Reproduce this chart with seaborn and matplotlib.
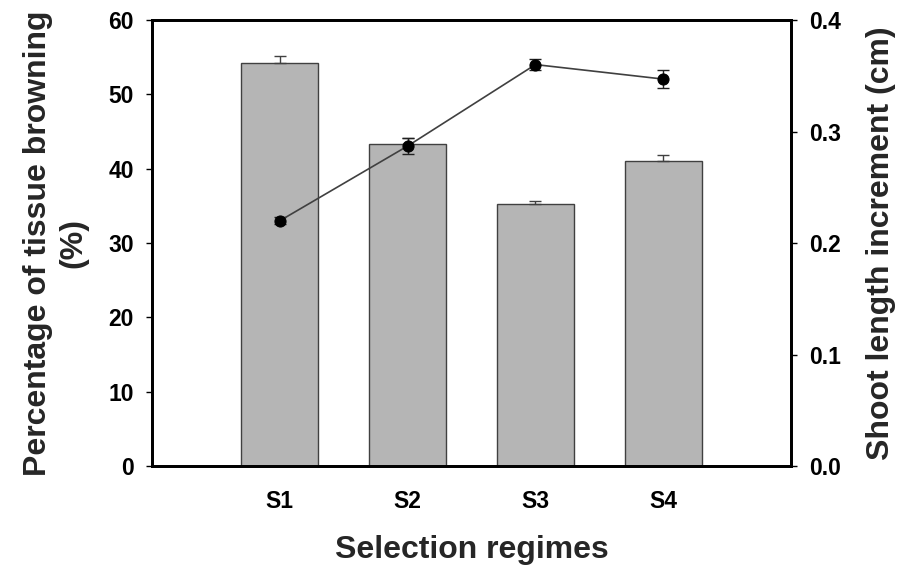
import matplotlib
matplotlib.use("Agg")
import matplotlib.pyplot as plt
import seaborn as sns
import pandas as pd

# --- data ---
regimes = ["S1", "S2", "S3", "S4"]
browning = [54.2, 43.3, 35.3, 41.1]          # % tissue browning (bars)
browning_err = [0.95, 0.8, 0.4, 0.75]
shoot = [0.220, 0.287, 0.360, 0.347]         # shoot length increment (cm)
shoot_err = [0.003, 0.007, 0.005, 0.008]

sns.set_style("white")
plt.rcParams["font.family"] = ["Liberation Sans", "DejaVu Sans"]
plt.rcParams["font.weight"] = "bold"

df = pd.DataFrame({"regime": regimes, "browning": browning})

fig = plt.figure(figsize=(8.99, 5.70), dpi=100)
ax = fig.add_axes([0.169, 0.182, 0.711, 0.783])

sns.barplot(data=df, x="regime", y="browning", ax=ax, color="#b5b5b5",
            edgecolor="#404040", linewidth=1.0, width=0.6, saturation=1)
xpos = list(range(len(regimes)))
ax.errorbar(xpos, browning, yerr=[[0] * 4, browning_err], fmt="none",
            ecolor="#404040", elinewidth=1.0, capsize=4.5, capthick=1.0)

ax.set_xlim(-1, 4)
ax.set_ylim(0, 60)
ax.set_yticks(range(0, 61, 10))
ax.set_xlabel("Selection regimes", fontsize=23, fontweight="bold", labelpad=16)
ax.set_ylabel("Percentage of tissue browning\n(%)", fontsize=23,
              fontweight="bold", labelpad=14, linespacing=1.25)

ax2 = ax.twinx()
ax2.errorbar(xpos, shoot, yerr=shoot_err, fmt="none", ecolor="#202020",
             elinewidth=1.0, capsize=4.5, capthick=1.0, zorder=3)
sns.lineplot(x=xpos, y=shoot, ax=ax2, color="#404040", linewidth=1.2,
             marker="o", markersize=8, markerfacecolor="black",
             markeredgecolor="black", zorder=4)
ax2.set_ylim(0, 0.4)
ax2.set_yticks([0.0, 0.1, 0.2, 0.3, 0.4])
ax2.set_yticklabels(["0.0", "0.1", "0.2", "0.3", "0.4"])
ax2.set_ylabel("Shoot length increment (cm)", fontsize=23, fontweight="bold",
               labelpad=18)
ax2.set_xlim(-1, 4)

for a in (ax, ax2):
    for s in a.spines.values():
        s.set_visible(True)
        s.set_color("black")
        s.set_linewidth(2.0)
    a.tick_params(direction="out", length=4, width=1.0, colors="black",
                  labelsize=16.5)
    for lbl in a.get_xticklabels() + a.get_yticklabels():
        lbl.set_fontweight("bold")
ax.tick_params(axis="x", pad=13)
ax.tick_params(axis="y", left=True, pad=9)
ax2.tick_params(axis="y", right=True, pad=9)

fig.savefig("out.png", dpi=100)
